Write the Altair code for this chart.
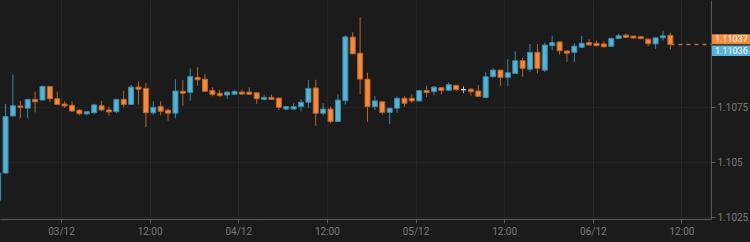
import altair as alt
import pandas as pd

START = "2019-12-02 15:00"

opens = [1.10328, 1.10451, 1.10711, 1.10756, 1.10746, 1.10786, 1.10783, 1.10845, 1.10789, 1.10765,
         1.10759, 1.10737, 1.10720, 1.10725, 1.10757, 1.10738, 1.10730, 1.10786, 1.10763, 1.10842,
         1.10836, 1.10725, 1.10753, 1.10737, 1.10723, 1.10823, 1.10818, 1.10886, 1.10878, 1.10826,
         1.10814, 1.10806, 1.10810, 1.10819, 1.10819, 1.10816, 1.10786, 1.10795, 1.10792, 1.10742,
         1.10742, 1.10753, 1.10773, 1.10838, 1.10723, 1.10742, 1.10686, 1.10780, 1.11069, 1.10996,
         1.10878, 1.10753, 1.10775, 1.10727, 1.10746, 1.10791, 1.10791, 1.10779, 1.10826, 1.10821,
         1.10839, 1.10827, 1.10850, 1.10830, 1.10832, 1.10824, 1.10795, 1.10889, 1.10919, 1.10886,
         1.10904, 1.10962, 1.10923, 1.11000, 1.10919, 1.11030, 1.11047, 1.11006, 1.11000, 1.11023,
         1.11044, 1.11041, 1.11038, 1.11027, 1.11063, 1.11078, 1.11074, 1.11071, 1.11060, 1.11038,
         1.11066, 1.11077]

closes = [1.10451, 1.10708, 1.10757, 1.10750, 1.10786, 1.10775, 1.10845, 1.10789, 1.10763, 1.10756,
          1.10733, 1.10721, 1.10730, 1.10761, 1.10738, 1.10729, 1.10786, 1.10763, 1.10842, 1.10832,
          1.10725, 1.10750, 1.10732, 1.10723, 1.10824, 1.10814, 1.10890, 1.10875, 1.10823, 1.10809,
          1.10803, 1.10819, 1.10821, 1.10810, 1.10809, 1.10789, 1.10795, 1.10786, 1.10750, 1.10753,
          1.10753, 1.10773, 1.10836, 1.10723, 1.10742, 1.10686, 1.10783, 1.11070, 1.10993, 1.10878,
          1.10753, 1.10779, 1.10727, 1.10746, 1.10791, 1.10768, 1.10779, 1.10826, 1.10817, 1.10842,
          1.10827, 1.10853, 1.10830, 1.10830, 1.10821, 1.10800, 1.10889, 1.10919, 1.10886, 1.10907,
          1.10962, 1.10927, 1.11000, 1.10927, 1.11033, 1.11044, 1.11007, 1.10996, 1.11028, 1.11041,
          1.11033, 1.11030, 1.11025, 1.11063, 1.11075, 1.11068, 1.11065, 1.11062, 1.11039, 1.11066,
          1.11075, 1.11036]

highs = [1.10456, 1.10765, 1.10899, 1.10779, 1.10788, 1.10821, 1.10849, 1.10847, 1.10821, 1.10777,
         1.10777, 1.10742, 1.10733, 1.10766, 1.10780, 1.10752, 1.10789, 1.10825, 1.10852, 1.10868,
         1.10860, 1.10777, 1.10777, 1.10743, 1.10877, 1.10874, 1.10927, 1.10932, 1.10901, 1.10841,
         1.10830, 1.10822, 1.10830, 1.10830, 1.10841, 1.10819, 1.10807, 1.10809, 1.10794, 1.10754,
         1.10768, 1.10786, 1.10874, 1.10875, 1.10769, 1.10753, 1.10809, 1.11077, 1.11091, 1.11160,
         1.10907, 1.10801, 1.10776, 1.10747, 1.10798, 1.10801, 1.10809, 1.10829, 1.10848, 1.10847,
         1.10841, 1.10863, 1.10851, 1.10845, 1.10837, 1.10851, 1.10909, 1.10927, 1.10920, 1.10968,
         1.11004, 1.10975, 1.11038, 1.11038, 1.11044, 1.11075, 1.11048, 1.11007, 1.11041, 1.11075,
         1.11059, 1.11053, 1.11051, 1.11068, 1.11083, 1.11086, 1.11075, 1.11072, 1.11062, 1.11067,
         1.11098, 1.11089]

lows = [1.10319, 1.10449, 1.10709, 1.10700, 1.10700, 1.10727, 1.10781, 1.10774, 1.10762, 1.10747,
        1.10729, 1.10714, 1.10714, 1.10718, 1.10732, 1.10712, 1.10723, 1.10750, 1.10760, 1.10763,
        1.10660, 1.10716, 1.10714, 1.10689, 1.10700, 1.10756, 1.10780, 1.10848, 1.10819, 1.10800,
        1.10798, 1.10788, 1.10808, 1.10809, 1.10806, 1.10766, 1.10782, 1.10783, 1.10738, 1.10738,
        1.10741, 1.10732, 1.10748, 1.10666, 1.10714, 1.10677, 1.10683, 1.10763, 1.10992, 1.10810,
        1.10684, 1.10738, 1.10718, 1.10674, 1.10725, 1.10752, 1.10771, 1.10776, 1.10796, 1.10804,
        1.10809, 1.10826, 1.10826, 1.10814, 1.10804, 1.10799, 1.10791, 1.10887, 1.10848, 1.10847,
        1.10903, 1.10889, 1.10911, 1.10904, 1.10911, 1.11010, 1.10990, 1.10957, 1.10957, 1.11019,
        1.11032, 1.11028, 1.11024, 1.11026, 1.11062, 1.11066, 1.11062, 1.11060, 1.11028, 1.11016,
        1.11053, 1.11013]

ask_price = 1.11037
bid_price = 1.11036
y_ticks = [1.1025, 1.105, 1.1075]

UP, DOWN, FLAT = "#56b3d6", "#f58a3d", "#d8d8d8"
UP_LINE, DOWN_LINE, FLAT_LINE = "#3b88a6", "#b8642c", "#bdbdbd"
BG = "#1b1b1b"

times = pd.date_range(START, periods=len(opens), freq="h")
mid = times + pd.Timedelta(minutes=30)
direction = ["up" if c > o else ("down" if c < o else "flat") for o, c in zip(opens, closes)]
df = pd.DataFrame({
    "t": mid.strftime("%Y-%m-%dT%H:%M"),
    "open": opens, "high": highs, "low": lows, "close": closes, "dir": direction,
})

x_dom = [alt.DateTime(year=2019, month=12, date=2, hours=15, minutes=45),
         alt.DateTime(year=2019, month=12, date=6, hours=16)]
x_vals = [alt.DateTime(year=2019, month=12, date=d, hours=h) for d in (3, 4, 5, 6) for h in (0, 12)]

xscale = alt.Scale(domain=x_dom, padding=0)
yscale = alt.Scale(domain=[1.102423, 1.112377], nice=False, zero=False, padding=0)

x_axis = alt.Axis(
    values=x_vals, title=None, grid=True, gridColor="#262626",
    labelExpr="hours(datum.value) == 0 ? timeFormat(datum.value, '%d/%m') : timeFormat(datum.value, '%H:%M')",
    domainColor="#5c5c5c", tickColor="#5c5c5c", tickSize=4, labelColor="#7a7a7a",
    labelFontSize=10, labelPadding=3, labelFont="Roboto",
)
y_axis = alt.Axis(
    orient="right", values=y_ticks, title=None, grid=True, gridColor="#242424",
    labelExpr="format(datum.value, '.5~g')",
    domainColor="#5c5c5c", tickColor="#5c5c5c", tickSize=4,
    labelColor="#7a7a7a", labelFontSize=10, labelPadding=2, labelFont="Roboto",
)

dir_dom = ["up", "down", "flat"]

base = alt.Chart(df)
wicks = base.mark_rule(strokeWidth=1, clip=True).encode(
    x=alt.X("t:T", scale=xscale, axis=x_axis),
    y=alt.Y("low:Q", scale=yscale, axis=y_axis),
    y2="high:Q",
    color=alt.Color("dir:N", scale=alt.Scale(domain=dir_dom, range=[UP_LINE, DOWN_LINE, FLAT_LINE]), legend=None),
)
bodies = base.mark_bar(size=5, strokeWidth=1, clip=True).encode(
    x=alt.X("t:T", scale=xscale),
    y=alt.Y("open:Q", scale=yscale),
    y2="close:Q",
    fill=alt.Fill("dir:N", scale=alt.Scale(domain=dir_dom, range=[UP, DOWN, FLAT]), legend=None),
    stroke=alt.Stroke("dir:N", scale=alt.Scale(domain=dir_dom, range=[UP_LINE, DOWN_LINE, FLAT]), legend=None),
)

last = pd.DataFrame({"t0": [df["t"].iloc[-1]], "t1": ["2019-12-06T16:00"], "p": [bid_price]})
dash = alt.Chart(last).mark_rule(strokeDash=[4, 4], color="#b9733f", strokeWidth=1.5).encode(
    x=alt.X("t0:T", scale=xscale), x2="t1:T", y=alt.Y("p:Q", scale=yscale))

ask_df = pd.DataFrame({"p": [ask_price], "label": [f"{ask_price:.5f}"]})
bid_df = pd.DataFrame({"p": [bid_price], "label": [f"{bid_price:.5f}"]})

ask_box = alt.Chart(ask_df).mark_rect(color=DOWN, yOffset=-10, y2Offset=0).encode(
    x=alt.value(712), x2=alt.value(750), y=alt.Y("p:Q", scale=yscale), y2="p:Q")
ask_txt = alt.Chart(ask_df).mark_text(align="left", baseline="middle", dy=-5, color="white",
                                      fontSize=9, font="Roboto").encode(
    x=alt.value(715), y=alt.Y("p:Q", scale=yscale), text="label:N")
bid_box = alt.Chart(bid_df).mark_rect(color=UP, yOffset=1, y2Offset=11.5).encode(
    x=alt.value(712), x2=alt.value(750), y=alt.Y("p:Q", scale=yscale), y2="p:Q")
bid_txt = alt.Chart(bid_df).mark_text(align="left", baseline="middle", dy=6.3, color="white",
                                      fontSize=9, font="Roboto").encode(
    x=alt.value(715), y=alt.Y("p:Q", scale=yscale), text="label:N")

chart = alt.layer(
    wicks, bodies, dash, ask_box, ask_txt, bid_box, bid_txt
).properties(
    width=711, height=219,
    autosize=alt.AutoSizeParams(type="none"),
    padding={"left": 0, "top": 0, "right": 39, "bottom": 23},
    background=BG,
).configure_view(stroke=None)

chart.save("out.html", embed_options={"renderer": "svg", "actions": False})
